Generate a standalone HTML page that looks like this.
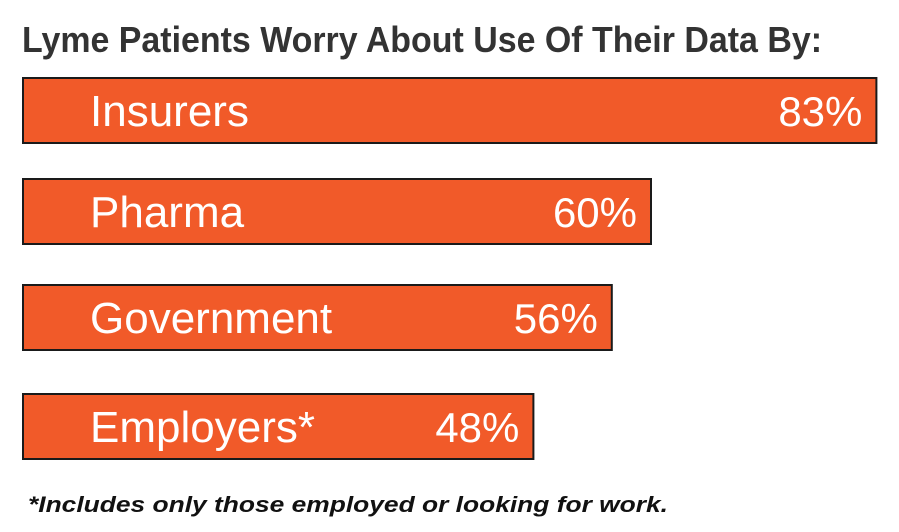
<!DOCTYPE html>
<html><head><meta charset="utf-8"><style>
body{margin:0;background:#fff;}
svg{display:block;font-family:"Liberation Sans",sans-serif;}
</style></head><body>
<svg id="chart" width="899" height="532" viewBox="0 0 899 532">
<text x="22" y="52" font-size="36" font-weight="bold" fill="#333" textLength="800" lengthAdjust="spacingAndGlyphs">Lyme Patients Worry About Use Of Their Data By:</text>
<g id="bars"></g>
<text x="28" y="512" font-size="22" font-weight="bold" font-style="italic" fill="#111" textLength="640" lengthAdjust="spacingAndGlyphs">*Includes only those employed or looking for work.</text>
</svg>
<script>
const categories = ["Insurers","Pharma","Government","Employers*"];
const values = [83,60,56,48];
const valueLabels = ["83%","60%","56%","48%"];
const ns="http://www.w3.org/2000/svg";
const g=document.getElementById('bars');
function xw(v){return 40+9.8*v;}
const tops=[78,179,285,394], bh=65;
categories.forEach((c,i)=>{
  const y=tops[i], w=xw(values[i]);
  const r=document.createElementNS(ns,'rect');
  
  
  r.setAttribute('x',23);r.setAttribute('y',y);r.setAttribute('width',w);r.setAttribute('height',bh);
  r.setAttribute('fill','#F15A29');r.setAttribute('stroke','#1a1a1a');r.setAttribute('stroke-width','2');
  g.appendChild(r);
  const t=document.createElementNS(ns,'text');
  
  
  t.setAttribute('x',90);t.setAttribute('y',y+48);t.setAttribute('font-size','44');t.setAttribute('fill','#fff');
  t.textContent=c;g.appendChild(t);
  const v=document.createElementNS(ns,'text');
  
  
  v.setAttribute('x',23+w-14);v.setAttribute('y',y+48);v.setAttribute('font-size','42');v.setAttribute('fill','#fff');v.setAttribute('text-anchor','end');
  v.textContent=valueLabels[i];g.appendChild(v);
});
</script>
</body></html>
